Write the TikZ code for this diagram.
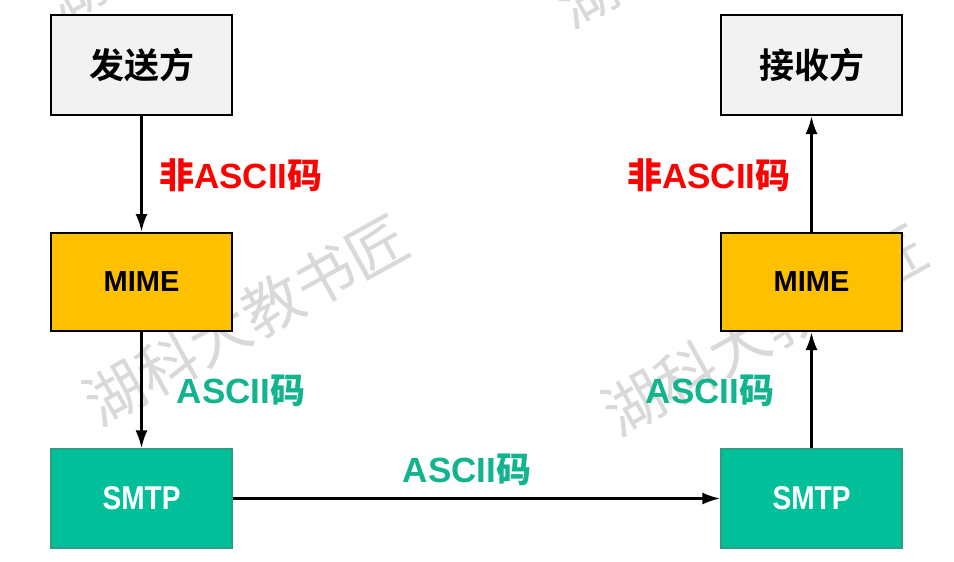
\documentclass[tikz,border=0pt]{standalone}
\usepackage{fontspec}
\setmainfont{Liberation Sans}
\newfontfamily\cjkb{Noto Sans CJK SC Bold}
\newfontfamily\cjkr{Noto Sans CJK SC}
\usetikzlibrary{arrows.meta}
\definecolor{boxgray}{HTML}{F2F2F2}
\definecolor{mimeorange}{HTML}{FFC000}
\definecolor{smtpteal}{HTML}{00BF99}
\definecolor{smtpedge}{HTML}{2A9F84}
\definecolor{labgreen}{HTML}{12B48E}
\definecolor{labred}{HTML}{FF0000}
\definecolor{wmgray}{HTML}{D9D9D9}
\tikzset{
  endbox/.style={draw=black, line width=2pt, fill=boxgray, minimum width=181pt, minimum height=100pt, inner sep=0pt, font=\fontsize{35}{35}\selectfont\cjkb},
  mimebox/.style={draw=black, line width=2pt, fill=mimeorange, minimum width=181pt, minimum height=98pt, inner sep=0pt, font=\fontsize{29}{29}\selectfont\bfseries},
  smtpbox/.style={draw=smtpedge, line width=1.2pt, fill=smtpteal, minimum width=181pt, minimum height=99pt, inner sep=0pt, text=white},
  smtptext/.style={text=white, inner sep=0pt, font=\fontsize{33}{33}\selectfont\bfseries, xscale=0.85},
  conn/.style={line width=2.7pt, -{Latex[length=18pt,width=12pt]}},
  redlab/.style={text=labred, inner sep=0pt, font=\fontsize{35}{35}\selectfont\bfseries},
  greenlab/.style={text=labgreen, inner sep=0pt, font=\fontsize{35}{35}\selectfont\bfseries},
  wm/.style={text=wmgray, rotate=29, inner sep=0pt, font=\fontsize{60}{60}\selectfont\cjkr}
}
\begin{document}
\begin{tikzpicture}[x=1pt,y=-1pt]
\useasboundingbox (0,0) rectangle (954,562);
\fill[white] (0,0) rectangle (954,562);
\begin{scope}
\clip (0,0) rectangle (954,562);
\node[wm] (wm1) at (246,320) {湖科大教书匠};
\node[wm] (wm2) at (765,330) {湖科大教书匠};
\node[wm] (wm3) at (205,-82) {湖科大教书匠};
\node[wm] (wm4) at (718,-78) {湖科大教书匠};
\end{scope}
% boxes
\node[endbox] (snd) at (141.5,65) {发送方};
\node[endbox] (rcv) at (811.5,65) {接收方};
\node[mimebox] (mimeL) at (141.5,282) {MIME};
\node[mimebox] (mimeR) at (811.5,282) {MIME};
\node[smtpbox] (smtpL) at (141.5,498.5) {};
\node[smtpbox] (smtpR) at (811.5,498.5) {};
\node[smtptext] (smtpLt) at (smtpL.center) {SMTP};
\node[smtptext] (smtpRt) at (smtpR.center) {SMTP};
% connectors
\draw[conn] (snd.south) -- (mimeL.north);
\draw[conn] (mimeL.south) -- (smtpL.north);
\draw[conn] (smtpL.east) -- (smtpR.west);
\draw[conn] (smtpR.north) -- (mimeR.south);
\draw[conn] (mimeR.north) -- (rcv.south);
% labels
\node[redlab] (l1) at (241,175) {{\cjkb 非}ASCII{\cjkb 码}};
\node[redlab] (l2) at (709,175) {{\cjkb 非}ASCII{\cjkb 码}};
\node[greenlab] (l3) at (241,391) {ASCII{\cjkb 码}};
\node[greenlab] (l4) at (710,391) {ASCII{\cjkb 码}};
\node[greenlab] (l5) at (467,470) {ASCII{\cjkb 码}};
\end{tikzpicture}
\end{document}
